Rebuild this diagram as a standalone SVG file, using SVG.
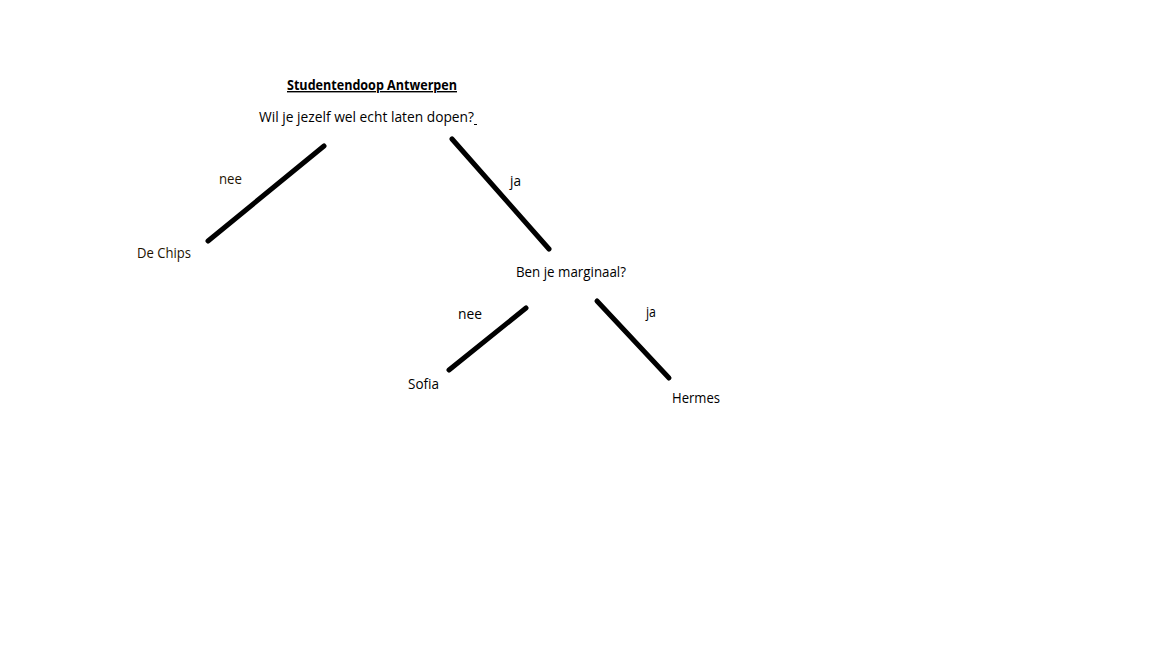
<svg xmlns="http://www.w3.org/2000/svg" width="1152" height="648" viewBox="0 0 1152 648">
<style>
text{font-family:"Open Sans","Liberation Sans",sans-serif;font-size:14px;fill:#000;}
.t{font-weight:bold;text-decoration:underline;}
.br{fill:#1e1200;}
.c line{stroke:#000;stroke-width:5;stroke-linecap:round;}
</style>
<rect width="1152" height="648" fill="#fff"/>
<g id="title"><text class="t" x="287" y="90" textLength="170" lengthAdjust="spacingAndGlyphs">Studentendoop Antwerpen</text></g>
<g id="q1"><text x="259" y="122" textLength="215" lengthAdjust="spacingAndGlyphs">Wil je jezelf wel echt laten dopen?</text><line x1="474" y1="124.5" x2="477" y2="124.5" stroke="#000" stroke-width="1"/></g>
<g id="dechips"><text class="br" x="137" y="258" textLength="54" lengthAdjust="spacingAndGlyphs">De Chips</text></g>
<g id="q2"><text x="516" y="277" textLength="110" lengthAdjust="spacingAndGlyphs">Ben je marginaal?</text></g>
<g id="sofia"><text x="408" y="389" textLength="31" lengthAdjust="spacingAndGlyphs">Sofia</text></g>
<g id="hermes"><text x="672" y="403" textLength="48" lengthAdjust="spacingAndGlyphs">Hermes</text></g>
<g class="c" id="connectors">
<line x1="324" y1="146" x2="208" y2="241"/>
<line x1="452" y1="139" x2="549" y2="249"/>
<line x1="526" y1="308" x2="449" y2="370"/>
<line x1="597" y1="301" x2="669" y2="378"/>
<text class="br" x="219" y="184" textLength="23" lengthAdjust="spacingAndGlyphs">nee</text>
<text x="510" y="186" textLength="11" lengthAdjust="spacingAndGlyphs">ja</text>
<text x="458" y="319" textLength="24" lengthAdjust="spacingAndGlyphs">nee</text>
<text x="646" y="317" textLength="10" lengthAdjust="spacingAndGlyphs">ja</text>
</g>
</svg>
